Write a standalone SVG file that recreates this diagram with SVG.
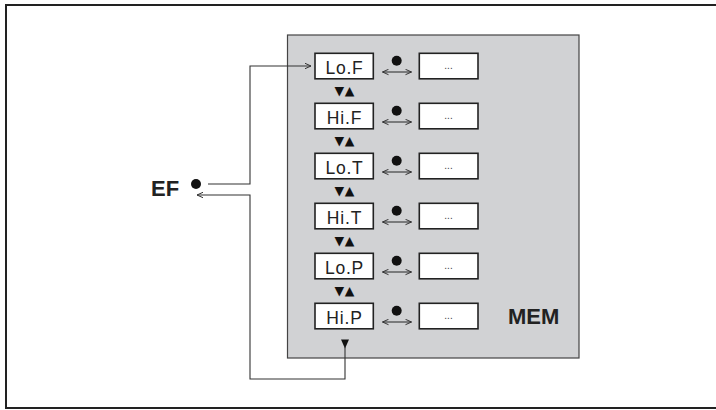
<svg xmlns="http://www.w3.org/2000/svg" width="716" height="410" viewBox="0 0 716 410">
<defs>
<style>
.lbl{fill:#fff;stroke:#222;stroke-width:1.6}
.lt{font-family:"Liberation Sans",Arial,sans-serif;font-size:17.5px;letter-spacing:0.8px;fill:#222;text-anchor:middle}
.dots{font-family:"Liberation Sans",Arial,sans-serif;font-size:10px;fill:#444;text-anchor:middle}
.big{font-family:"Liberation Sans",Arial,sans-serif;font-size:22px;font-weight:bold;fill:#222}
.tri{font-family:"DejaVu Sans",sans-serif;font-size:12.5px;fill:#111;text-anchor:middle}
.ln{fill:none;stroke:#333;stroke-width:1.1}
</style>
<marker id="oa" viewBox="0 0 7 7" refX="6.5" refY="3.5" markerWidth="7" markerHeight="7" markerUnits="userSpaceOnUse" orient="auto-start-reverse">
<path d="M0.5,0.8 L6.5,3.5 L0.5,6.2" fill="none" stroke="#333" stroke-width="1"/>
</marker>
</defs>
<rect x="6" y="5" width="730" height="403" fill="#fff" stroke="#222" stroke-width="2"/>
<g id="mem">
<rect x="287.5" y="35" width="291.5" height="323" fill="#d1d2d4" stroke="#444" stroke-width="1.2"/>
<text class="big" x="508" y="324">MEM</text>
</g>
<g id="ef">
<text class="big" x="151" y="196">EF</text>
<circle cx="196" cy="184" r="5" fill="#111"/>
</g>
<g id="row-lof">
<rect class="lbl" x="315" y="53.3" width="58.3" height="25.5"/>
<text class="lt" x="344.5" y="74">Lo.F</text>
<circle cx="396.7" cy="60.7" r="5" fill="#111"/>
<line class="ln" x1="382.5" y1="72" x2="411.5" y2="72" marker-start="url(#oa)" marker-end="url(#oa)"/>
<rect class="lbl" x="419.3" y="53.3" width="58.7" height="25.5"/>
<text class="dots" x="448.5" y="69">...</text>
</g>
<g id="row-hif">
<rect class="lbl" x="315" y="103.3" width="58.3" height="25.5"/>
<text class="lt" x="344.5" y="124">Hi.F</text>
<circle cx="396.7" cy="110.7" r="5" fill="#111"/>
<line class="ln" x1="382.5" y1="122" x2="411.5" y2="122" marker-start="url(#oa)" marker-end="url(#oa)"/>
<rect class="lbl" x="419.3" y="103.3" width="58.7" height="25.5"/>
<text class="dots" x="448.5" y="119">...</text>
</g>
<g id="row-lot">
<rect class="lbl" x="315" y="153.3" width="58.3" height="25.5"/>
<text class="lt" x="344.5" y="174">Lo.T</text>
<circle cx="396.7" cy="160.7" r="5" fill="#111"/>
<line class="ln" x1="382.5" y1="172" x2="411.5" y2="172" marker-start="url(#oa)" marker-end="url(#oa)"/>
<rect class="lbl" x="419.3" y="153.3" width="58.7" height="25.5"/>
<text class="dots" x="448.5" y="169">...</text>
</g>
<g id="row-hit">
<rect class="lbl" x="315" y="203.3" width="58.3" height="25.5"/>
<text class="lt" x="344.5" y="224">Hi.T</text>
<circle cx="396.7" cy="210.7" r="5" fill="#111"/>
<line class="ln" x1="382.5" y1="222" x2="411.5" y2="222" marker-start="url(#oa)" marker-end="url(#oa)"/>
<rect class="lbl" x="419.3" y="203.3" width="58.7" height="25.5"/>
<text class="dots" x="448.5" y="219">...</text>
</g>
<g id="row-lop">
<rect class="lbl" x="315" y="253.3" width="58.3" height="25.5"/>
<text class="lt" x="344.5" y="274">Lo.P</text>
<circle cx="396.7" cy="260.7" r="5" fill="#111"/>
<line class="ln" x1="382.5" y1="272" x2="411.5" y2="272" marker-start="url(#oa)" marker-end="url(#oa)"/>
<rect class="lbl" x="419.3" y="253.3" width="58.7" height="25.5"/>
<text class="dots" x="448.5" y="269">...</text>
</g>
<g id="row-hip">
<rect class="lbl" x="315" y="303.3" width="58.3" height="25.5"/>
<text class="lt" x="344.5" y="324">Hi.P</text>
<circle cx="396.7" cy="310.7" r="5" fill="#111"/>
<line class="ln" x1="382.5" y1="322" x2="411.5" y2="322" marker-start="url(#oa)" marker-end="url(#oa)"/>
<rect class="lbl" x="419.3" y="303.3" width="58.7" height="25.5"/>
<text class="dots" x="448.5" y="319">...</text>
</g>
<g id="steps">
<text class="tri" y="95"><tspan x="339.3">▼</tspan><tspan x="349.5">▲</tspan></text>
<text class="tri" y="145"><tspan x="339.3">▼</tspan><tspan x="349.5">▲</tspan></text>
<text class="tri" y="195"><tspan x="339.3">▼</tspan><tspan x="349.5">▲</tspan></text>
<text class="tri" y="245"><tspan x="339.3">▼</tspan><tspan x="349.5">▲</tspan></text>
<text class="tri" y="295"><tspan x="339.3">▼</tspan><tspan x="349.5">▲</tspan></text>
</g>
<g id="connectors">
<path class="ln" d="M208,184 H250 V66 H311" marker-end="url(#oa)"/>
<polygon points="341,339.5 349,339.5 345,348.5" fill="#111"/>
<path class="ln" d="M345,347 V379 H250 V195 H197" marker-end="url(#oa)"/>
</g>
</svg>
